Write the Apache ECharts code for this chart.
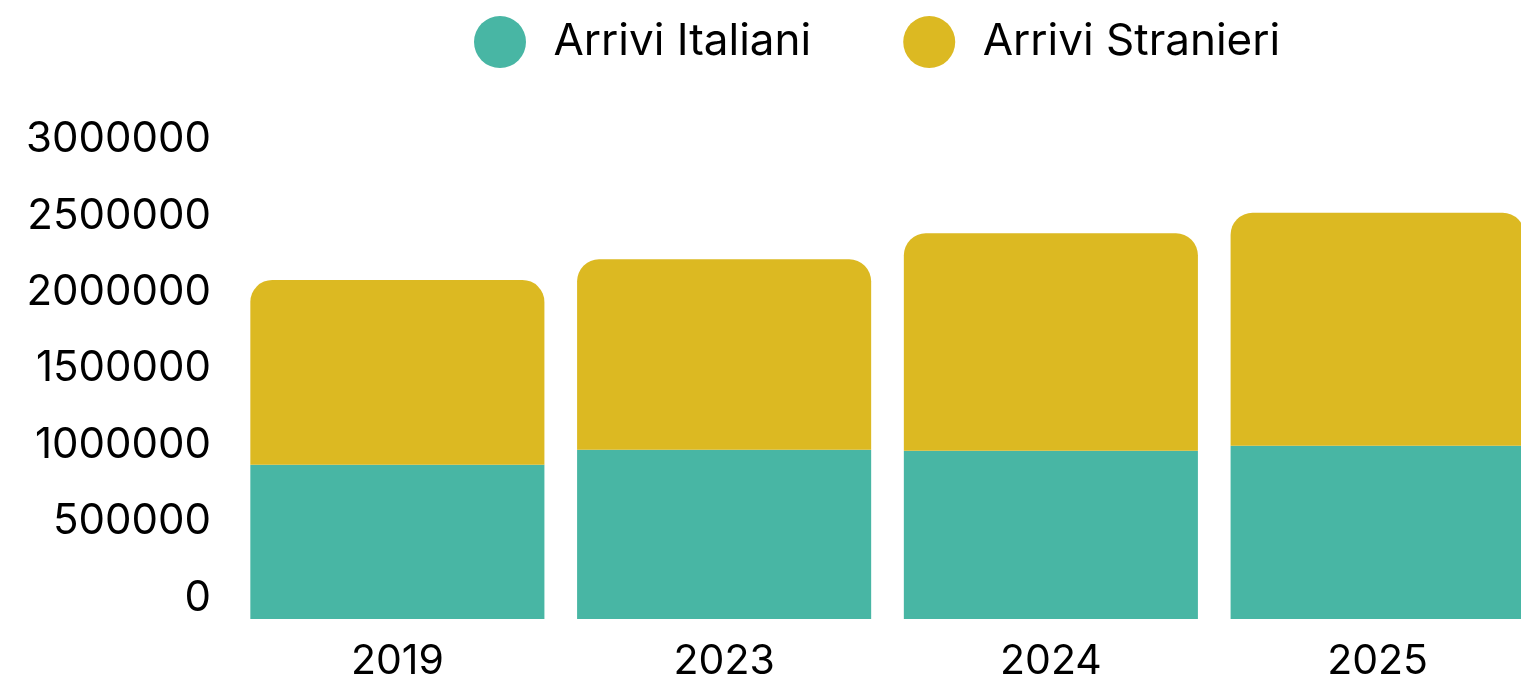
<!DOCTYPE html>
<html>
<head>
<meta charset="utf-8">
<script src="https://cdn.jsdelivr.net/npm/echarts@6/dist/echarts.min.js"></script>
<style>
  html, body { margin: 0; padding: 0; background: #ffffff; }
  #chart { width: 1521px; height: 682px; }
</style>
</head>
<body>
<div id="chart"></div>
<script>
const years = ['2019', '2023', '2024', '2025']
const arriviItaliani = [1010000, 1108000, 1101000, 1134000]
const arriviStranieri = [1209000, 1246000, 1423000, 1525000]

const chart = echarts.init(document.getElementById('chart'))

chart.setOption({
  animation: false,
  textStyle: { fontFamily: 'Inter' },
  legend: {
    top: 16,
    left: 474,
    padding: 0,
    icon: 'circle',
    itemWidth: 53,
    itemHeight: 52,
    itemGap: 92,
    textStyle: { color: '#000000', fontSize: 44, padding: [0, 0, 0, 22] },
    data: ['Arrivi Italiani', 'Arrivi Stranieri']
  },
  // the last bar runs past the right edge in the original
  grid: {
    left: 234,
    width: 1307,
    top: 160.6,
    bottom: 63,
    containLabel: false,
    outerBoundsMode: 'none'
  },
  xAxis: {
    type: 'category',
    data: years,
    axisLine: { show: false },
    axisTick: { show: false },
    axisLabel: { color: '#000000', fontSize: 41, margin: 22 }
  },
  yAxis: {
    type: 'value',
    min: 0,
    max: 3000000,
    interval: 500000,
    axisLine: { show: false },
    axisTick: { show: false },
    splitLine: { show: false },
    axisLabel: {
      color: '#000000',
      fontSize: 42,
      margin: 23,
      verticalAlign: 'bottom',
      formatter: (v) => String(v)
    }
  },
  series: [
    {
      name: 'Arrivi Italiani',
      type: 'bar',
      stack: 'arrivi',
      barCategoryGap: '10%',
      data: arriviItaliani,
      itemStyle: { color: '#48B6A4' }
    },
    {
      name: 'Arrivi Stranieri',
      type: 'bar',
      stack: 'arrivi',
      barCategoryGap: '10%',
      data: arriviStranieri,
      itemStyle: { color: '#DCB922', borderRadius: [22, 22, 0, 0] }
    }
  ]
})
</script>
</body>
</html>
